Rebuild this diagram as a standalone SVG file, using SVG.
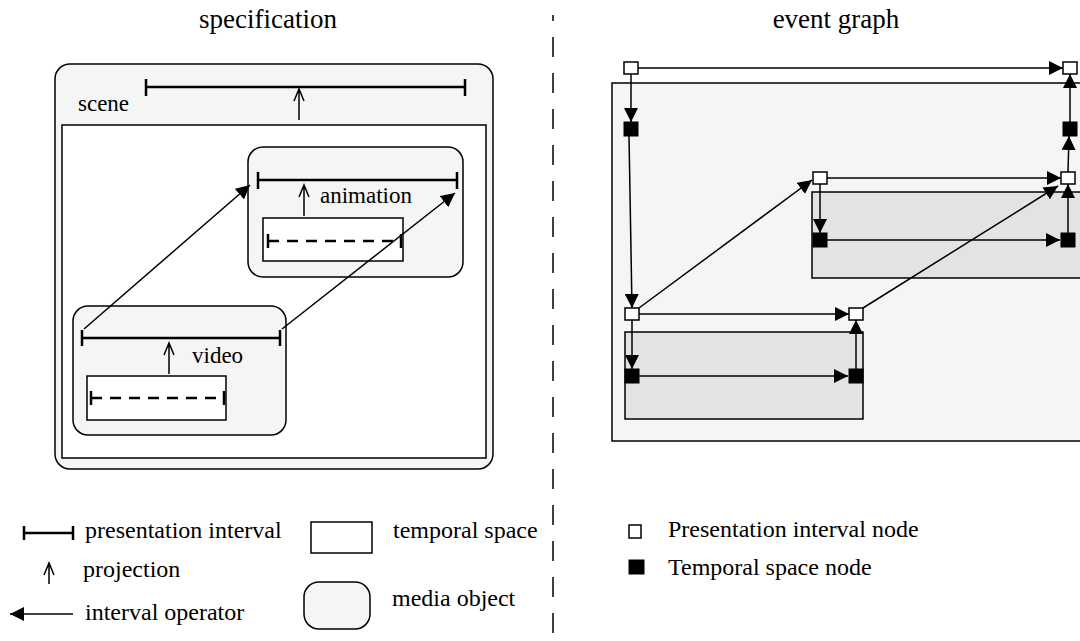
<svg xmlns="http://www.w3.org/2000/svg" width="1080" height="641" viewBox="0 0 1080 641">
<defs>
<marker id="ah" markerUnits="userSpaceOnUse" markerWidth="14" markerHeight="14" refX="14" refY="7" orient="auto"><path d="M0,0 L14,7 L0,14 z" fill="#000"/></marker>
</defs>
<style>
text{font-family:"Liberation Serif","Times New Roman",serif;fill:#000}
.title{font-size:27px}
.lbl{font-size:23px}
.leg{font-size:24px}
.mo{fill:#f5f5f5;stroke:#000;stroke-width:1.5}
.ts{fill:#fff;stroke:#000;stroke-width:1.5}
.iv{stroke:#000;stroke-width:2.5;fill:none}
.dsh{stroke:#000;stroke-width:2.5;stroke-dasharray:11 8;fill:none}
.proj{stroke:#000;stroke-width:1.5;fill:none}
.op{stroke:#000;stroke-width:1.5;fill:none;marker-end:url(#ah)}
.pn{fill:#fff;stroke:#000;stroke-width:1.5}
.tn{fill:#000;stroke:#000;stroke-width:1}
.bg1{fill:#f5f5f5;stroke:#000;stroke-width:1.5}
.bg2{fill:#e3e3e3;stroke:#000;stroke-width:1.5}
.sep{stroke:#000;stroke-width:1.5;stroke-dasharray:20 16;stroke-dashoffset:14}
</style>

<g id="titles">
<text class="title" x="268" y="28" text-anchor="middle">specification</text>
<text class="title" x="836" y="28" text-anchor="middle">event graph</text>
</g>
<line id="separator" class="sep" x1="553" y1="15" x2="553" y2="641"/>

<!-- specification -->
<g id="scene">
<rect class="mo" x="55" y="64" width="438" height="405" rx="15"/>
<rect class="ts" x="62" y="125" width="424" height="333"/>
<path class="iv" d="M146,87 H465 M146,79 V96 M465,79 V96"/>
<path class="proj" d="M299,120 V89 M294,101 L299,89 L304,101"/>
<text class="lbl" x="78" y="111">scene</text>
</g>
<g id="animation">
<rect class="mo" x="248" y="147" width="215" height="130" rx="15"/>
<path class="iv" d="M258,180 H457 M258,172 V189 M457,172 V189"/>
<path class="proj" d="M304,216 V185 M299,197 L304,185 L309,197"/>
<text class="lbl" x="320" y="203">animation</text>
<rect class="ts" x="263" y="218" width="140" height="43"/>
<path class="dsh" d="M268,241 H401"/>
<path class="iv" d="M268,234 V248 M401,234 V248"/>
</g>
<g id="video">
<rect class="mo" x="73" y="306" width="213" height="129" rx="15"/>
<path class="iv" d="M82,338 H280 M82,330 V346 M280,330 V346"/>
<path class="proj" d="M169,374 V343 M164,355 L169,343 L174,355"/>
<text class="lbl" x="192" y="363">video</text>
<rect class="ts" x="87" y="376" width="139" height="44"/>
<path class="dsh" d="M91,398 H224"/>
<path class="iv" d="M91,391 V405 M224,391 V405"/>
</g>
<g id="spec-connectors">
<line class="op" x1="84" y1="329" x2="250" y2="185"/>
<line class="op" x1="282" y1="329" x2="455" y2="193"/>
</g>

<!-- event graph -->
<g id="eg-spaces">
<rect class="bg1" x="612" y="83" width="480" height="358"/>
<rect class="bg2" x="812" y="192" width="280" height="86"/>
<rect class="bg2" x="625" y="332" width="238" height="87"/>
</g>
<g id="eg-connectors">
<line class="op" x1="638" y1="68" x2="1063" y2="68"/>
<line class="op" x1="631" y1="74" x2="631" y2="122"/>
<line class="op" x1="1070" y1="122" x2="1070" y2="74"/>
<line class="op" x1="1068" y1="172" x2="1069" y2="136"/>
<line class="op" x1="827" y1="178" x2="1061" y2="178"/>
<line class="op" x1="820" y1="184" x2="820" y2="233"/>
<line class="op" x1="827" y1="240" x2="1060" y2="240"/>
<line class="op" x1="1068" y1="233" x2="1068" y2="184"/>
<line class="op" x1="629" y1="136" x2="632" y2="308"/>
<line class="op" x1="639" y1="314" x2="849" y2="314"/>
<line class="op" x1="632" y1="320" x2="632" y2="369"/>
<line class="op" x1="639" y1="376" x2="848" y2="376"/>
<line class="op" x1="856" y1="369" x2="856" y2="320"/>
<line class="op" x1="639" y1="308" x2="812" y2="180"/>
<line class="op" x1="863" y1="308" x2="1058" y2="186"/>
</g>
<g id="n1"><rect class="pn" x="624" y="62" width="14" height="12"/></g>
<g id="n2"><rect class="pn" x="1063" y="62" width="14" height="12"/></g>
<g id="n3"><rect class="tn" x="624" y="122" width="14" height="14"/></g>
<g id="n4"><rect class="tn" x="1063" y="122" width="14" height="14"/></g>
<g id="n5"><rect class="pn" x="813" y="172" width="14" height="12"/></g>
<g id="n6"><rect class="pn" x="1061" y="172" width="14" height="12"/></g>
<g id="n7"><rect class="tn" x="813" y="233" width="14" height="14"/></g>
<g id="n8"><rect class="tn" x="1061" y="233" width="14" height="14"/></g>
<g id="n9"><rect class="pn" x="625" y="308" width="14" height="12"/></g>
<g id="n10"><rect class="pn" x="849" y="308" width="14" height="12"/></g>
<g id="n11"><rect class="tn" x="625" y="369" width="14" height="14"/></g>
<g id="n12"><rect class="tn" x="849" y="369" width="14" height="14"/></g>

<!-- legends -->
<g id="legend-spec">
<path class="iv" d="M24,533 H73 M24,526 V540 M73,526 V540"/>
<text class="leg" x="85" y="538">presentation interval</text>
<path class="proj" d="M49,584 V563 M44,575 L49,563 L54,575"/>
<text class="leg" x="83" y="577">projection</text>
<line class="op" x1="73" y1="614" x2="10" y2="614"/>
<text class="leg" x="85" y="620">interval operator</text>
<rect class="ts" x="311" y="522" width="61" height="31"/>
<text class="leg" x="393" y="538">temporal space</text>
<rect class="mo" x="304" y="582" width="66" height="47" rx="15"/>
<text class="leg" x="392" y="606">media object</text>
</g>
<g id="legend-eg">
<rect class="pn" x="629" y="525" width="12" height="13"/>
<text class="leg" x="668" y="537">Presentation interval node</text>
<rect class="tn" x="629" y="560" width="15" height="14"/>
<text class="leg" x="668" y="575">Temporal space node</text>
</g>
</svg>
